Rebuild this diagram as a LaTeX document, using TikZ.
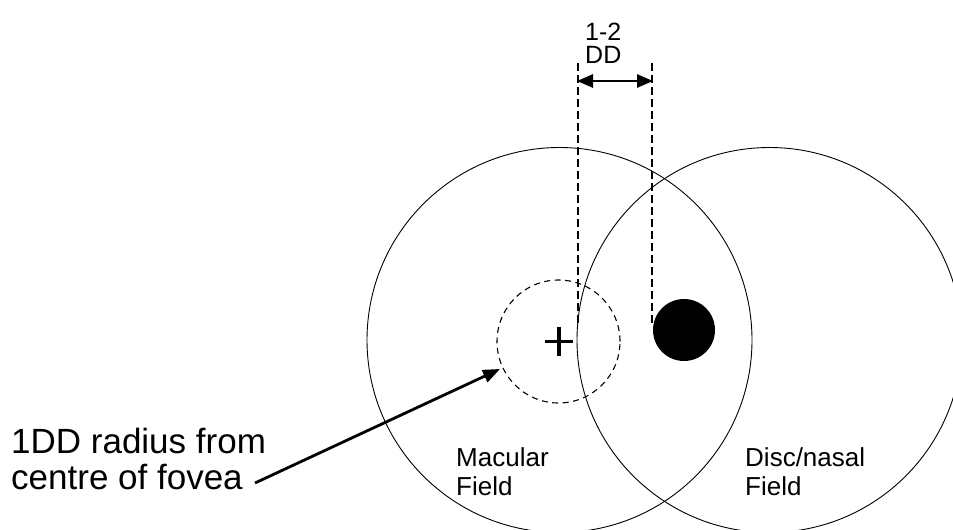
\documentclass[tikz,border=0pt]{standalone}
\usepackage{fontspec}
\setmainfont{Liberation Sans}
\usetikzlibrary{arrows.meta}
\begin{document}
\begin{tikzpicture}[x=1pt,y=-1pt,
  field/.style={draw=black,circle,line width=0.9pt,inner sep=0pt,minimum size=385pt},
  fovzone/.style={draw=black,circle,dash pattern=on 6pt off 4.5pt,line width=1.1pt,inner sep=0pt,minimum size=123pt},
  discspot/.style={fill=black,circle,inner sep=0pt,minimum size=62pt},
  guide/.style={dash pattern=on 7.5pt off 4.5pt,line width=1.9pt},
  dimarrow/.style={line width=2.8pt,{Triangle[length=16pt,width=13pt]}-{Triangle[length=16pt,width=13pt]},shorten <=-1pt,shorten >=-1pt},
  pointer/.style={line width=2.8pt,-{Triangle[length=17pt,width=13pt]}},
  lab/.style={inner sep=0pt,anchor=base west,align=left,font=\fontsize{26pt}{28.5pt}\selectfont},
  biglab/.style={inner sep=0pt,anchor=base west,align=left,font=\fontsize{35pt}{36pt}\selectfont},
  toplab/.style={inner sep=0pt,anchor=base west,align=left,font=\fontsize{25pt}{23pt}\selectfont}]
\useasboundingbox (0,0) rectangle (953,530);
% fields
\node[field] (mac) at (559.5,340) {};
\node[field] (nas) at (769.5,340) {};
% fovea zone
\node[fovzone] (fov) at (558.5,341.5) {};
\coordinate (fc) at (559,341.5);
\draw[line width=3.8pt] ([xshift=-14pt]fc) -- ([xshift=14pt]fc);
\draw[line width=3.8pt] ([yshift=-14.5pt]fc) -- ([yshift=14.5pt]fc);
% optic disc
\node[discspot] (disc) at (684,330) {};
% guides
\coordinate (lt) at (578,63);
\coordinate (lb) at (578,324);
\coordinate (rt) at (652,63);
\coordinate (rb) at (652,324);
\draw[guide] (lt) -- (lb);
\draw[guide] (rt) -- (rb);
\coordinate (la) at (578,81);
\coordinate (ra) at (652,81);
\draw[dimarrow] (la) -- (ra);
\node[toplab] (dd) at (585,63.5) {1-2\\DD};
% labels
\node[lab] (maclab) at (456,495) {Macular\\Field};
\node[lab] (naslab) at (745,495) {Disc/nasal\\Field};
\node[biglab] (fovlab) at (11,489) {1DD radius from\\centre of fovea};
\coordinate (ps) at (255,483);
\coordinate (pe) at (500,369);
\draw[pointer] (ps) -- (pe);
\end{tikzpicture}
\end{document}
